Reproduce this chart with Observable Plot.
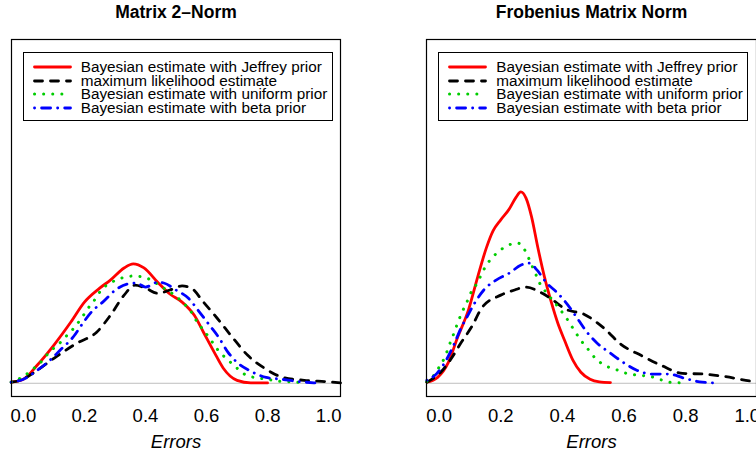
<!DOCTYPE html>
<html>
<head>
<meta charset="utf-8">
<script src="https://cdn.jsdelivr.net/npm/d3@7"></script>
<script src="https://cdn.jsdelivr.net/npm/@observablehq/plot@0.6"></script>
<style>
  html, body { margin: 0; padding: 0; background: #fff; overflow: hidden; }
  #wrap { position: relative; width: 756px; height: 458px; overflow: hidden; font-family: "Liberation Sans", Arial, Helvetica, sans-serif; }
  .panel { position: absolute; top: 0; }
  .panel svg { max-width: none !important; display: block; }
  .legend { position: absolute; top: 52px; width: 310px; height: 69px; box-sizing: border-box; border: 1px solid #000; background: #fff; padding-top: 7px; }
  .row { display: flex; align-items: center; height: 13.7px; font-size: 15.3px; line-height: 13.7px; color: #000; white-space: nowrap; }
  .row svg { margin-left: 8px; margin-right: 8px; flex: none; }
</style>
</head>
<body>
<div id="wrap"></div>
<script>
// ---------- data ----------
const titles = ["Matrix 2\u2013Norm", "Frobenius Matrix Norm"];
const xLabel = "Errors";
const xTicks = [0, 0.2, 0.4, 0.6, 0.8, 1.0];
const seriesNames = [
  "Bayesian estimate with Jeffrey prior",
  "maximum likelihood estimate",
  "Bayesian estimate with uniform prior",
  "Bayesian estimate with beta prior"
];

// Matrix 2-Norm panel
const n2JeffreyX = [-0.04,0.0,0.045,0.10,0.155,0.20,0.25,0.285,0.33,0.36,0.395,0.44,0.48,0.52,0.56,0.59,0.625,0.655,0.70,0.745,0.80];
const n2JeffreyY = [0.03,0.11,0.49,1.04,1.66,2.21,2.59,2.81,3.14,3.25,3.14,2.75,2.43,2.21,1.85,1.39,0.85,0.41,0.08,0.01,0.01];
const n2MleX = [-0.04,-0.01,0.045,0.10,0.175,0.24,0.285,0.33,0.365,0.40,0.44,0.48,0.52,0.55,0.59,0.635,0.685,0.735,0.79,0.85,0.92,1.0,1.04];
const n2MleY = [0.03,0.08,0.35,0.68,1.09,1.39,1.85,2.40,2.67,2.59,2.45,2.54,2.65,2.59,2.21,1.77,1.25,0.76,0.41,0.16,0.08,0.04,0.01];
const n2UniformX = [-0.04,0.0,0.035,0.06,0.085,0.115,0.14,0.165,0.19,0.21,0.235,0.255,0.285,0.32,0.36,0.395,0.43,0.46,0.495,0.525,0.55,0.57,0.59,0.615,0.635,0.66,0.69,0.72,0.755,0.8,0.83,0.87,0.91];
const n2UniformY = [0.03,0.19,0.41,0.60,0.85,1.06,1.28,1.50,1.77,2.02,2.29,2.54,2.73,2.86,2.92,2.89,2.75,2.59,2.40,2.18,1.94,1.66,1.45,1.17,0.93,0.71,0.49,0.27,0.16,0.11,0.06,0.04,0.02];
const n2BetaX = [-0.04,0.0,0.045,0.09,0.12,0.165,0.19,0.225,0.26,0.305,0.34,0.37,0.40,0.44,0.46,0.50,0.54,0.575,0.61,0.64,0.67,0.70,0.745,0.795,0.845,0.90,0.955];
const n2BetaY = [0.03,0.11,0.35,0.65,0.90,1.28,1.58,1.96,2.21,2.56,2.70,2.73,2.62,2.75,2.73,2.54,2.32,1.96,1.58,1.25,0.85,0.57,0.33,0.16,0.11,0.05,0.01];

// Frobenius Matrix Norm panel
const frJeffreyX = [-0.04,-0.005,0.03,0.06,0.095,0.125,0.153,0.175,0.20,0.228,0.25,0.265,0.282,0.30,0.32,0.342,0.365,0.385,0.407,0.434,0.46,0.49,0.52,0.556];
const frJeffreyY = [0.03,0.16,0.57,1.25,1.99,2.89,3.68,4.15,4.45,4.75,5.07,5.21,5.04,4.53,3.71,2.89,2.18,1.64,1.17,0.63,0.30,0.11,0.04,0.02];
const frMleX = [-0.04,0.005,0.04,0.07,0.105,0.14,0.2,0.245,0.28,0.335,0.365,0.41,0.47,0.535,0.59,0.655,0.72,0.79,0.86,0.93,1.01,1.05];
const frMleY = [0.03,0.30,0.68,1.09,1.53,2.07,2.40,2.54,2.62,2.45,2.29,2.02,1.88,1.50,1.06,0.76,0.49,0.27,0.25,0.18,0.06,0.03];
const frUniformX = [-0.04,-0.025,0.0,0.02,0.033,0.047,0.06,0.073,0.09,0.104,0.125,0.142,0.163,0.188,0.22,0.255,0.28,0.296,0.312,0.326,0.35,0.387,0.42,0.44,0.46,0.483,0.507,0.537,0.572,0.608,0.645,0.683,0.718,0.755,0.79];
const frUniformY = [0.05,0.14,0.44,0.74,1.04,1.34,1.64,1.91,2.21,2.48,2.75,3.05,3.33,3.55,3.74,3.82,3.60,3.30,3.00,2.73,2.45,2.07,1.69,1.42,1.17,0.93,0.68,0.49,0.38,0.27,0.22,0.19,0.10,0.02,0.01];
const frBetaX = [-0.04,-0.007,0.023,0.05,0.071,0.09,0.115,0.145,0.185,0.228,0.266,0.293,0.318,0.347,0.385,0.418,0.45,0.48,0.513,0.556,0.597,0.643,0.69,0.745,0.795,0.845,0.895];
const frBetaY = [0.08,0.27,0.63,1.09,1.50,1.80,2.18,2.54,2.81,3.00,3.22,3.27,3.08,2.75,2.45,2.13,1.75,1.39,1.09,0.82,0.57,0.35,0.25,0.25,0.14,0.04,0.01];

// ---------- styles ----------
const styles = [
  {stroke: "#FF0000", strokeWidth: 2.8, strokeDasharray: null},
  {stroke: "#000000", strokeWidth: 2.8, strokeDasharray: "8,8"},
  {stroke: "#00CD00", strokeWidth: 3, strokeDasharray: "0.1,9"},
  {stroke: "#0000FF", strokeWidth: 2.8, strokeDasharray: "0.1,7,9,7"}
];
const FONT = '"Liberation Sans", Arial, Helvetica, sans-serif';

function toRows(xs, ys) { return xs.map((x, i) => ({x, y: ys[i]})); }

function panel({title, xDomain, width, marginLeft, marginRight, curves}) {
  const lineMarks = curves.map((c, i) => Plot.line(toRows(c[0], c[1]), {
    x: "x", y: "y", curve: "monotone-x",
    stroke: styles[i].stroke, strokeWidth: styles[i].strokeWidth,
    strokeDasharray: styles[i].strokeDasharray || undefined,
    strokeLinecap: "round", strokeLinejoin: "round"
  }));
  return Plot.plot({
    width, height: 458,
    marginLeft, marginRight, marginTop: 39, marginBottom: 62,
    style: {fontFamily: FONT, fontSize: "18.5px", color: "#000", background: "transparent", overflow: "visible"},
    x: {domain: xDomain},
    y: {domain: [-0.36, 9.36], axis: null},
    marks: [
      Plot.ruleY([0], {stroke: "#bebebe", strokeWidth: 1}),
      ...lineMarks,
      Plot.frame({stroke: "#000", strokeWidth: 1.2}),
      Plot.axisX({ticks: xTicks, tickFormat: d3.format(".1f"), tickSize: 0, tickPadding: 12, label: null}),
      Plot.text([xLabel], {frameAnchor: "bottom", dy: 46, lineAnchor: "middle", fontStyle: "italic", fontSize: 18.5, text: d => d}),
      Plot.text([title], {frameAnchor: "top", dy: -27, lineAnchor: "middle", fontWeight: "bold", fontSize: 17.5, text: d => d})
    ]
  });
}

const wrap = document.getElementById("wrap");

function addPanel(el, left, width) {
  const d = document.createElement("div");
  d.className = "panel";
  d.style.left = left + "px";
  d.style.width = width + "px";
  d.appendChild(el);
  wrap.appendChild(d);
}

function addLegend(left) {
  const lg = document.createElement("div");
  lg.className = "legend";
  lg.style.left = left + "px";
  seriesNames.forEach((name, i) => {
    const row = document.createElement("div");
    row.className = "row";
    const s = styles[i];
    row.innerHTML = `<svg width="41" height="10"><line x1="2.5" y1="5" x2="38.5" y2="5" stroke="${s.stroke}" stroke-width="${s.strokeWidth}" stroke-linecap="round" ${s.strokeDasharray ? `stroke-dasharray="${s.strokeDasharray}"` : ""}/></svg><span>${name}</span>`;
    lg.appendChild(row);
  });
  wrap.appendChild(lg);
}

addPanel(panel({
  title: titles[0], xDomain: [-0.039, 1.039], width: 378, marginLeft: 11, marginRight: 38,
  curves: [[n2JeffreyX, n2JeffreyY], [n2MleX, n2MleY], [n2UniformX, n2UniformY], [n2BetaX, n2BetaY]]
}), 0, 378);
addPanel(panel({
  title: titles[1], xDomain: [-0.041, 1.03], width: 382, marginLeft: 48, marginRight: 4,
  curves: [[frJeffreyX, frJeffreyY], [frMleX, frMleY], [frUniformX, frUniformY], [frBetaX, frBetaY]]
}), 378, 382);
addLegend(22.7);
addLegend(438.3);
</script>
</body>
</html>
